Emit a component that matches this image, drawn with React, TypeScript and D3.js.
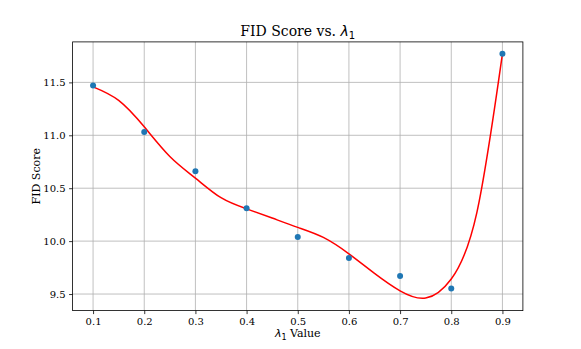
import React, { useEffect, useRef } from "react";
import * as d3 from "d3";

// measured FID scores per lambda_1
const lambdas = [0.1, 0.2, 0.3, 0.4, 0.5, 0.6, 0.7, 0.8, 0.9];
const fidScores = [11.47, 11.03, 10.66, 10.31, 10.04, 9.84, 9.67, 9.553, 11.77];

// red fitted curve, every 0.05
const fitX = [
  0.1, 0.15, 0.2, 0.25, 0.3, 0.35, 0.4, 0.45, 0.5, 0.55, 0.6, 0.65, 0.7, 0.75,
  0.8, 0.85, 0.9,
];
const fitY = [
  11.458, 11.33, 11.08, 10.8, 10.595, 10.41, 10.305, 10.218, 10.13, 10.035,
  9.88, 9.695, 9.53, 9.462, 9.642, 10.27, 11.77,
];

const xTicks = [0.1, 0.2, 0.3, 0.4, 0.5, 0.6, 0.7, 0.8, 0.9];
const yTicks = [9.5, 10.0, 10.5, 11.0, 11.5];

const W = 581;
const H = 349;
const margin = { left: 72.6, right: 58.1, top: 41.9, bottom: 38.4 };
const serif = "'DejaVu Serif', serif";
const mathFont = "'DejaVu Sans', sans-serif";

const App = () => {
  const svgRef = useRef<SVGSVGElement>(null);

  useEffect(() => {
    const svg = d3.select(svgRef.current);
    svg.selectAll("*").remove();

    const x = d3
      .scaleLinear()
      .domain([0.06, 0.94])
      .range([margin.left, W - margin.right]);
    const y = d3
      .scaleLinear()
      .domain([9.3435, 11.8825])
      .range([H - margin.bottom, margin.top]);

    const [x0, x1] = x.range();
    const [y0, y1] = y.range();

    // grid
    const grid = svg.append("g").attr("stroke", "#b0b0b0").attr("stroke-width", 0.8);
    grid
      .selectAll("line.gx")
      .data(xTicks)
      .enter()
      .append("line")
      .attr("x1", (d) => x(d))
      .attr("x2", (d) => x(d))
      .attr("y1", y0)
      .attr("y2", y1);
    grid
      .selectAll("line.gy")
      .data(yTicks)
      .enter()
      .append("line")
      .attr("x1", x0)
      .attr("x2", x1)
      .attr("y1", (d) => y(d))
      .attr("y2", (d) => y(d));

    // fitted curve (evenly spaced samples, so natural spline is smooth in x)
    const line = d3
      .line<number>()
      .x((d, i) => x(fitX[i]))
      .y((d) => y(d))
      .curve(d3.curveNatural);
    svg
      .append("path")
      .attr("d", line(fitY))
      .attr("fill", "none")
      .attr("stroke", "#ff0000")
      .attr("stroke-width", 1.5);

    // points
    svg
      .selectAll("circle")
      .data(fidScores)
      .enter()
      .append("circle")
      .attr("cx", (d, i) => x(lambdas[i]))
      .attr("cy", (d) => y(d))
      .attr("r", 3)
      .attr("fill", "#1f77b4");

    // axes
    const xAxis = svg
      .append("g")
      .attr("transform", `translate(0, ${y0})`)
      .call(
        d3
          .axisBottom(x)
          .tickValues(xTicks)
          .tickFormat(d3.format(".1f"))
          .tickSize(3.5)
          .tickPadding(3.5)
      );
    const yAxis = svg
      .append("g")
      .attr("transform", `translate(${x0}, 0)`)
      .call(
        d3
          .axisLeft(y)
          .tickValues(yTicks)
          .tickFormat(d3.format(".1f"))
          .tickSize(3.5)
          .tickPadding(3.5)
      );
    [xAxis, yAxis].forEach((a) => {
      a.select(".domain").remove();
      a.selectAll("line").attr("stroke", "#000").attr("stroke-width", 0.8);
      a.selectAll("text")
        .attr("fill", "#000")
        .style("font-family", serif)
        .style("font-size", "10px");
    });

    // frame
    svg
      .append("rect")
      .attr("x", x0)
      .attr("y", y1)
      .attr("width", x1 - x0)
      .attr("height", y0 - y1)
      .attr("fill", "none")
      .attr("stroke", "#000")
      .attr("stroke-width", 0.8);

    // title
    const title = svg
      .append("text")
      .attr("x", (x0 + x1) / 2)
      .attr("y", 36)
      .attr("text-anchor", "middle")
      .style("font-family", serif)
      .style("font-size", "14px");
    title.append("tspan").text("FID Score vs. ");
    title.append("tspan").style("font-style", "italic").style("font-family", mathFont).text("λ");
    title.append("tspan").attr("dy", 3).style("font-size", "10px").style("font-family", mathFont).text("1");

    // x label
    const xl = svg
      .append("text")
      .attr("x", (x0 + x1) / 2)
      .attr("y", 337)
      .attr("text-anchor", "middle")
      .style("font-family", serif)
      .style("font-size", "11px");
    xl.append("tspan").style("font-style", "italic").style("font-family", mathFont).text("λ");
    xl.append("tspan").attr("dy", 2.5).style("font-size", "8px").style("font-family", mathFont).text("1");
    xl.append("tspan").attr("dy", -2.5).text(" Value");

    // y label
    svg
      .append("text")
      .attr("transform", `translate(39.5, ${(y0 + y1) / 2}) rotate(-90)`)
      .attr("text-anchor", "middle")
      .style("font-family", serif)
      .style("font-size", "11px")
      .text("FID Score");
  }, []);

  return <svg ref={svgRef} width={W} height={H} style={{ display: "block", margin: "-8px" }}></svg>;
};

export default App;
